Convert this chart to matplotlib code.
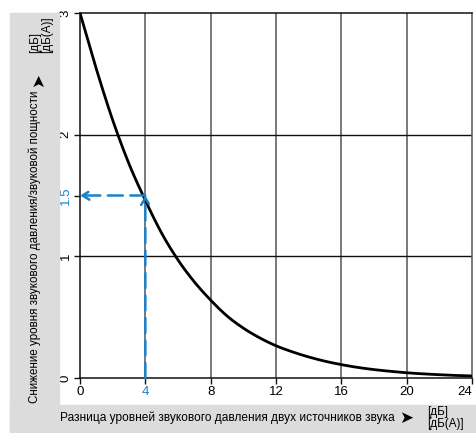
import matplotlib
matplotlib.use("Agg")
import matplotlib.pyplot as plt
from matplotlib.patches import Rectangle
import numpy as np

plt.rcParams['font.family'] = ['Liberation Sans', 'DejaVu Sans']

# level difference between the two sources [dB]
level_diff = [0, 1, 2, 3, 4, 5, 6, 7, 8, 9, 10, 11, 12, 13, 14, 15, 16,
              17, 18, 19, 20, 21, 22, 23, 24]
# reduction of sound pressure / power level [dB]
reduction = [3.0, 2.54, 2.12, 1.76, 1.46, 1.19, 0.97, 0.79, 0.64, 0.51,
             0.41, 0.33, 0.265, 0.215, 0.173, 0.138, 0.11, 0.087, 0.069, 0.055,
             0.043, 0.034, 0.027, 0.021, 0.017]

x_ticks = [0, 4, 8, 12, 16, 20, 24]
y_ticks = [0, 1, 2, 3]
example_x = 4
example_y = 1.5

blue = '#1a82c9'
W, H = 476, 433


def catmull_rom(xs, ys, n=12):
    """Smooth polyline through the given points for drawing."""
    p = np.column_stack([xs, ys]).astype(float)
    p = np.vstack([2 * p[0] - p[1], p, 2 * p[-1] - p[-2]])
    out = []
    t = np.linspace(0, 1, n, endpoint=False)[:, None]
    for i in range(1, len(p) - 2):
        p0, p1, p2, p3 = p[i - 1], p[i], p[i + 1], p[i + 2]
        seg = 0.5 * ((2 * p1) + (-p0 + p2) * t
                     + (2 * p0 - 5 * p1 + 4 * p2 - p3) * t ** 2
                     + (-p0 + 3 * p1 - 3 * p2 + p3) * t ** 3)
        out.append(seg)
    out.append(p[-2][None, :])
    s = np.vstack(out)
    return s[:, 0], s[:, 1]


fig = plt.figure(figsize=(W / 100, H / 100), dpi=100)

# grey label panels
fig.patches.append(Rectangle((10 / W, 0), 49 / W, 1 - 13 / H,
                             transform=fig.transFigure, color='#dcdcdc', zorder=0))
fig.patches.append(Rectangle((10 / W, 0), 1 - 10 / W, 28 / H,
                             transform=fig.transFigure, color='#dcdcdc', zorder=0))

ax = fig.add_axes([80 / W, 1 - 378 / H, 392 / W, 365 / H])
ax.set_xlim(0, 24)
ax.set_ylim(0, 3)

for xv in x_ticks[1:-1]:
    ax.axvline(xv, color='#555555', lw=1.1, zorder=1)
for yv in [1, 2]:
    ax.axhline(yv, color='#111111', lw=1.0, zorder=1)

for s in ['left', 'bottom', 'top']:
    ax.spines[s].set_color('#111111')
    ax.spines[s].set_linewidth(1.1)
ax.spines['right'].set_color('#555555')
ax.spines['right'].set_linewidth(1.1)

cx, cy = catmull_rom(level_diff, reduction)
ax.plot(cx, cy, color='black', lw=2.0, zorder=3, solid_capstyle='round')

# worked example: dashed arrows
arrow_kw = dict(arrowstyle='->,head_length=0.5,head_width=0.3', color=blue, lw=1.8,
                linestyle=(0, (6, 3)), shrinkA=0, shrinkB=0)
ax.annotate('', xy=(example_x, example_y), xytext=(example_x, 0),
            arrowprops=arrow_kw, zorder=4)
ax.annotate('', xy=(0, example_y), xytext=(example_x, example_y),
            arrowprops=arrow_kw, zorder=4)

ax.set_xticks(x_ticks)
ax.set_xticklabels([str(v) for v in x_ticks])
ax.set_yticks(y_ticks + [example_y])
ax.set_yticklabels([str(v) for v in y_ticks] + ['1.5'], rotation=90, va='center')
ax.tick_params(axis='both', length=4, width=1, labelsize=9.5, color='#111111', pad=2)
for lab in ax.get_xticklabels():
    if lab.get_text() == '4':
        lab.set_color(blue)
    if lab.get_text() == '24':
        lab.set_horizontalalignment('right')
        lab.set_x(24.35)
for lab in ax.get_yticklabels():
    if lab.get_text() == '1.5':
        lab.set_color(blue)
ax.get_yticklines()[-2].set_color(blue)

# y axis caption
fig.text(35 / W, 1 - 403 / H, 'Снижение уровня звукового давления/звуковой пощности',
         rotation=90, ha='center', va='bottom', fontsize=8.4)
fig.text(38 / W, 1 - 80 / H, '➤', rotation=90, ha='center', va='center',
         fontsize=12, family=['DejaVu Sans'])
fig.text(41 / W, 1 - 53 / H, '[дБ]\n[дБ(A)]', rotation=90, ha='center', va='bottom',
         multialignment='left', fontsize=8.4, linespacing=1.05)

# x axis caption
fig.text(60 / W, 1 - 418 / H, 'Разница уровней звукового давления двух источников звука',
         ha='left', va='center', fontsize=8.6)
fig.text(406 / W, 1 - 418 / H, '➤', ha='center', va='center',
         fontsize=12, family=['DejaVu Sans'])
fig.text(427 / W, 1 - 418 / H, '[дБ]\n[дБ(A)]', ha='left', va='center',
         fontsize=8.4, linespacing=1.05)

fig.savefig('out.png', dpi=100)
